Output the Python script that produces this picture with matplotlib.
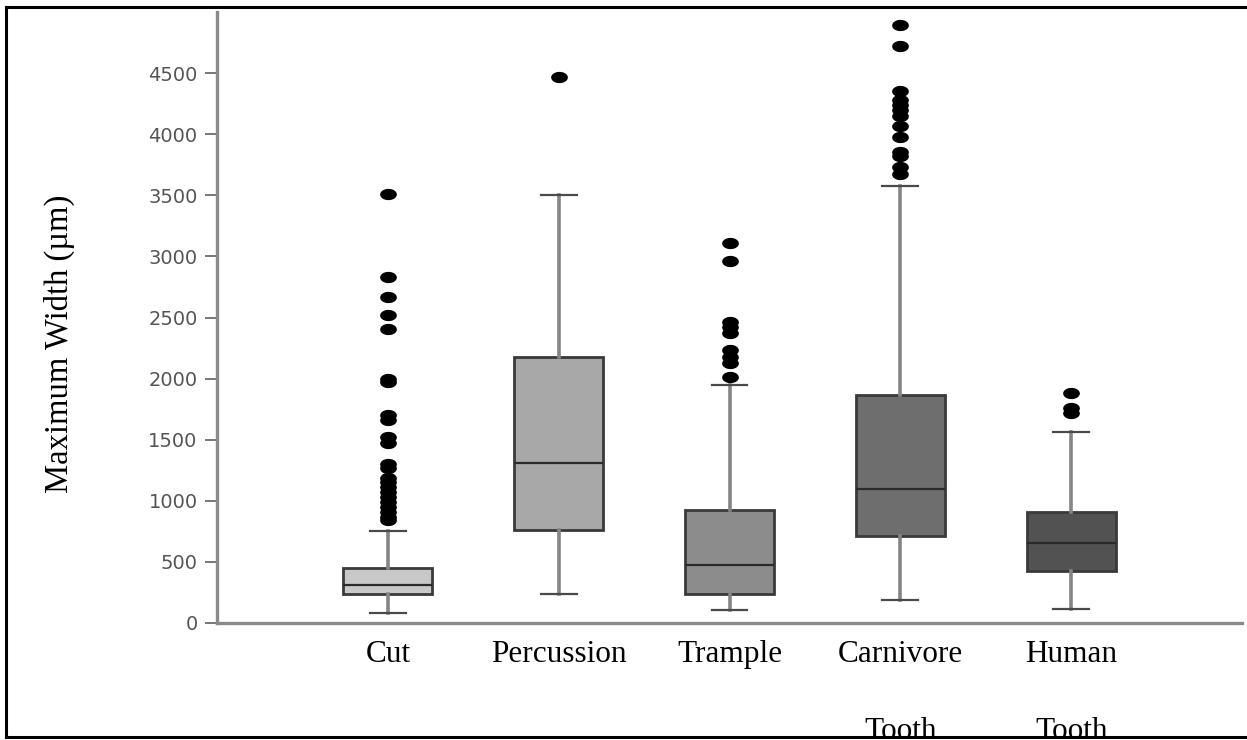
import numpy as np
import matplotlib
matplotlib.use('Agg')
import matplotlib.pyplot as plt
from matplotlib.path import Path
from matplotlib.lines import Line2D

# Summary statistics of maximum mark width per agent (micrometres)
categories = ['Cut', 'Percussion', 'Trample', 'Carnivore\nTooth', 'Human\nTooth']
whisker_low = [85, 235, 105, 186, 112]
q1 = [237, 761, 240, 714, 428]
median = [311, 1312, 475, 1100, 652]
q3 = [453, 2174, 928, 1867, 906]
whisker_high = [753, 3500, 1947, 3576, 1563]

cut_outliers = [3510, 2830, 2665, 2520, 2405, 2000, 1975, 1700, 1660, 1525, 1475,
                1300, 1270, 1190, 1150, 1110, 1070, 1030, 990, 950, 910, 870, 845]
percussion_outliers = [4468]
trample_outliers = [3110, 2960, 2465, 2425, 2370, 2235, 2180, 2125, 2015]
carnivore_outliers = [4890, 4720, 4355, 4280, 4240, 4195, 4150, 4065, 3975,
                      3855, 3820, 3735, 3675]
human_outliers = [1884, 1756, 1716]
outliers = [cut_outliers, percussion_outliers, trample_outliers,
            carnivore_outliers, human_outliers]

box_colors = ['#c8c8c8', '#a8a8a8', '#8c8c8c', '#6e6e6e', '#525252']
y_ticks = [0, 500, 1000, 1500, 2000, 2500, 3000, 3500, 4000, 4500]

stats = []
for i in range(len(categories)):
    stats.append({
        'label': categories[i],
        'whislo': whisker_low[i],
        'q1': q1[i],
        'med': median[i],
        'q3': q3[i],
        'whishi': whisker_high[i],
        'fliers': outliers[i],
    })

# flat elliptical dots for outliers
t = np.linspace(0, 2 * np.pi, 60)
ellipse = Path(np.column_stack([1.55 * np.cos(t), np.sin(t)]), closed=True)

fig = plt.figure(figsize=(12.47, 7.40), dpi=100)
ax = fig.add_axes([217 / 1247, 1 - 623 / 740, (1242 - 217) / 1247, 611 / 740])

positions = np.arange(1, len(categories) + 1)
bp = ax.bxp(stats, positions=positions, widths=0.52, capwidths=0.21,
            patch_artist=True,
            boxprops=dict(edgecolor='#3a3a3a', linewidth=2.0),
            medianprops=dict(color='#2a2a2a', linewidth=1.6),
            whiskerprops=dict(color='#858585', linewidth=2.6),
            capprops=dict(color='#4a4a4a', linewidth=1.6),
            flierprops=dict(marker=ellipse, markersize=11, markerfacecolor='black',
                            markeredgecolor='black', linestyle='none'))
for patch, c in zip(bp['boxes'], box_colors):
    patch.set_facecolor(c)

ax.set_xlim(0, 6)
ax.set_ylim(0, 5000)
ax.set_yticks(y_ticks)
ax.set_yticklabels([str(v) for v in y_ticks], fontsize=14, color='#555555',
                   family='DejaVu Sans')
ax.set_xticks(positions)
ax.set_xticklabels(categories, fontsize=22.5, family='Liberation Serif',
                   color='black', linespacing=3.2)
ax.tick_params(axis='x', length=0, pad=12)
ax.tick_params(axis='y', length=9, width=1.4, color='#777777', pad=5)

for side in ['top', 'right']:
    ax.spines[side].set_visible(False)
for side in ['left', 'bottom']:
    ax.spines[side].set_color('#8a8a8a')
    ax.spines[side].set_linewidth(2.4)

fig.text(59 / 1247, 1 - 344 / 740, 'Maximum Width (µm)', rotation=90,
         ha='center', va='center', fontsize=23.5, family='Liberation Serif')

# black frame: left, top and bottom edges only
left, top, bottom = 6 / 1247, 1 - 7 / 740, 3 / 740
for xs, ys in [([left, left], [bottom, top]),
               ([left, 1.0], [top, top]),
               ([left, 1.0], [bottom, bottom])]:
    fig.add_artist(Line2D(xs, ys, transform=fig.transFigure, color='black',
                          linewidth=2.2, zorder=10))

fig.savefig('out.png', dpi=100)
